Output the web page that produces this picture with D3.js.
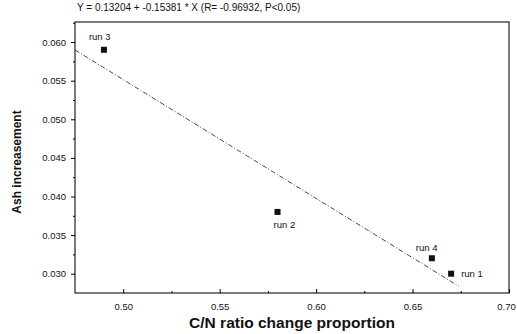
<html>
<head>
<style>
  body { margin: 0; background: #fff; }
  text { font-family: "Liberation Sans", Arial, sans-serif; fill: #111; }
</style>
</head>
<body>
<svg id="chart" width="517" height="334"></svg>
<script src="https://d3js.org/d3.v7.min.js"></script>
<script>
// data
const runs   = ["run 1", "run 2", "run 3", "run 4"]
const ratio  = [0.670, 0.580, 0.490, 0.660]
const ash    = [0.0300, 0.0380, 0.0590, 0.0320]
const xTicks = [0.50, 0.55, 0.60, 0.65, 0.70]
const yTicks = [0.030, 0.035, 0.040, 0.045, 0.050, 0.055, 0.060]
const fitA = 0.13204, fitB = -0.15381
const fitRange = [0.475, 0.674]

const svg = d3.select("#chart")
const plotLeft = 75, plotRight = 509, plotTop = 22, plotBottom = 293

const x = d3.scaleLinear().domain([0.475, 0.70]).range([plotLeft, plotRight])
const y = d3.scaleLinear().domain([0.0275, 0.0626]).range([plotBottom, plotTop])

// frame
svg.append("rect")
    .attr("x", plotLeft).attr("y", plotTop)
    .attr("width", plotRight - plotLeft).attr("height", plotBottom - plotTop)
    .attr("fill", "none").attr("stroke", "#222").attr("stroke-width", 1.2)

// y axis: outward ticks
let yAxis = svg.append("g").attr("transform", `translate(${plotLeft},0)`)
    .call(d3.axisLeft(y).tickValues(yTicks).tickSize(4).tickPadding(5)
        .tickFormat(d3.format(".3f")))
yAxis.select(".domain").remove()
yAxis.selectAll("text").style("font-size", "9.5px")
svg.append("g").attr("transform", `translate(${plotLeft},0)`)
    .call(d3.axisLeft(y).tickValues(yTicks.map(d => d + 0.0025)).tickSize(2).tickFormat(""))
    .select(".domain").remove()

// x axis: inward ticks
let xAxis = svg.append("g").attr("transform", `translate(0,${plotBottom})`)
    .call(d3.axisBottom(x).tickValues(xTicks).tickSizeInner(-4).tickSizeOuter(0).tickPadding(10)
        .tickFormat(d3.format(".2f")))
xAxis.select(".domain").remove()
xAxis.selectAll("text").style("font-size", "9.5px")
xAxis.selectAll("text").filter(d => d === 0.70).attr("dx", -3)
svg.append("g").attr("transform", `translate(0,${plotBottom})`)
    .call(d3.axisBottom(x).tickValues([0.525, 0.575, 0.625, 0.675]).tickSizeInner(-2).tickSizeOuter(0).tickFormat(""))
    .select(".domain").remove()

// regression line
svg.append("line")
    .attr("x1", x(fitRange[0])).attr("y1", y(fitA + fitB * fitRange[0]))
    .attr("x2", x(fitRange[1])).attr("y2", y(fitA + fitB * fitRange[1]))
    .attr("stroke", "#333").attr("stroke-width", 0.9)
    .attr("stroke-dasharray", "5,2,1,2")

// points
svg.selectAll(".pt").data(runs).enter().append("rect")
    .attr("x", (d, i) => x(ratio[i]) - 3)
    .attr("y", (d, i) => y(ash[i]) - 3)
    .attr("width", 6).attr("height", 6)
    .attr("fill", "#111")

// point labels
const labelOffset = { "run 1": [10, 3], "run 2": [-4, 16], "run 3": [-15, -10], "run 4": [-16, -7] }
svg.selectAll(".lbl").data(runs).enter().append("text")
    .attr("x", (d, i) => x(ratio[i]) + labelOffset[d][0])
    .attr("y", (d, i) => y(ash[i]) + labelOffset[d][1])
    .style("font-size", "9.5px")
    .text(d => d)

// title
svg.append("text").attr("x", 77).attr("y", 11)
    .style("font-size", "10px")
    .text("Y = 0.13204 + -0.15381 * X  (R= -0.96932, P<0.05)")

// axis titles
svg.append("text")
    .attr("transform", `translate(21,162) rotate(-90)`)
    .attr("text-anchor", "middle")
    .style("font-size", "12px").style("font-weight", "bold")
    .text("Ash increasement")
svg.append("text")
    .attr("x", 292).attr("y", 328)
    .attr("text-anchor", "middle")
    .style("font-size", "15.5px").style("font-weight", "bold")
    .text("C/N ratio change proportion")
</script>
</body>
</html>
